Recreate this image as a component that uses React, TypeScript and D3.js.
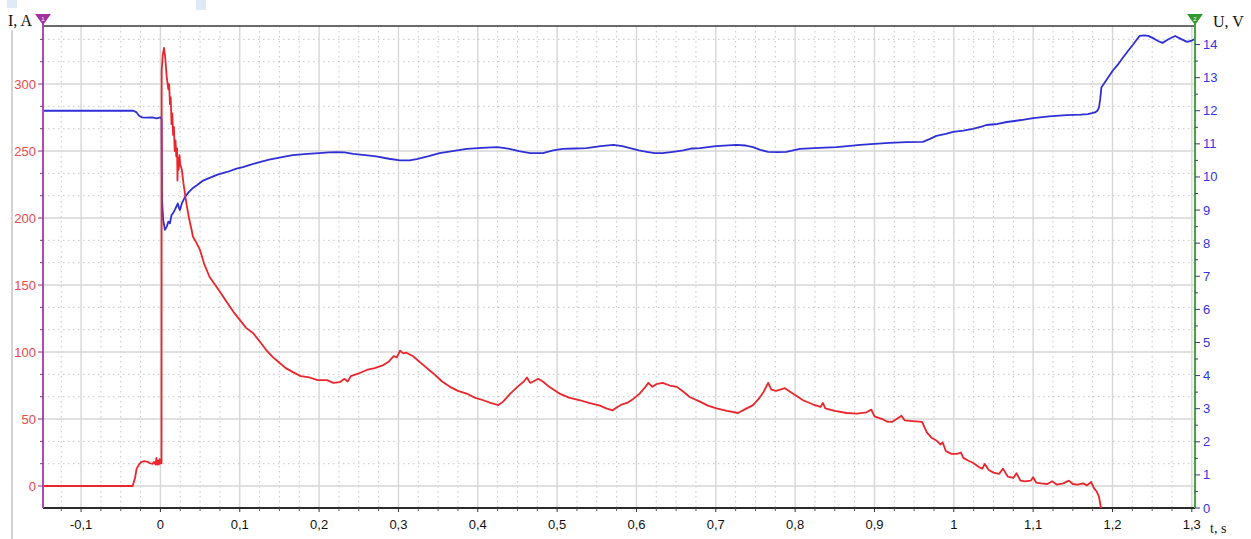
import * as d3 from "d3";

// time axis (s), current (A, left axis), voltage (V, right axis)
const timeTicks = [-0.1, 0, 0.1, 0.2, 0.3, 0.4, 0.5, 0.6, 0.7, 0.8, 0.9, 1, 1.1, 1.2, 1.3];
const currentTicks = [0, 50, 100, 150, 200, 250, 300];
const voltageTicks = [0, 1, 2, 3, 4, 5, 6, 7, 8, 9, 10, 11, 12, 13, 14];

const currentTime = [
  -0.148, -0.035, -0.032, -0.03, -0.027, -0.024, -0.02, -0.016, -0.013, -0.01, -0.008, -0.006, -0.005,
  -0.004, -0.003, -0.002, -0.001, 0, 0.0012, 0.0014, 0.0016, 0.003, 0.0045, 0.006, 0.008, 0.01, 0.011,
  0.012, 0.013, 0.014, 0.015, 0.016, 0.017, 0.018, 0.019, 0.02, 0.021, 0.0215, 0.022, 0.023, 0.024,
  0.025, 0.027, 0.029, 0.031, 0.033, 0.036, 0.039, 0.041, 0.045, 0.05, 0.055, 0.062, 0.068, 0.075,
  0.084, 0.092, 0.1, 0.108, 0.117, 0.125, 0.134, 0.142, 0.15, 0.158, 0.167, 0.177, 0.188, 0.198, 0.21,
  0.218, 0.226, 0.232, 0.236, 0.24, 0.25, 0.26, 0.27, 0.28, 0.288, 0.294, 0.298, 0.302, 0.306, 0.31,
  0.318, 0.33, 0.344, 0.355, 0.365, 0.375, 0.386, 0.396, 0.407, 0.416, 0.426, 0.432, 0.441, 0.45,
  0.458, 0.462, 0.466, 0.47, 0.476, 0.482, 0.49, 0.503, 0.515, 0.529, 0.54, 0.554, 0.562, 0.57, 0.576,
  0.582, 0.588, 0.596, 0.604, 0.61, 0.615, 0.62, 0.625, 0.633, 0.642, 0.651, 0.66, 0.667, 0.68, 0.69,
  0.701, 0.714, 0.728, 0.736, 0.747, 0.754, 0.76, 0.766, 0.77, 0.776, 0.787, 0.797, 0.81, 0.822, 0.832,
  0.835, 0.838, 0.85, 0.865, 0.878, 0.89, 0.896, 0.9, 0.91, 0.916, 0.922, 0.928, 0.934, 0.938, 0.948,
  0.96, 0.966, 0.972, 0.978, 0.983, 0.986, 0.99, 0.997, 1.004, 1.009, 1.012, 1.018, 1.025, 1.032,
  1.036, 1.039, 1.044, 1.05, 1.057, 1.062, 1.068, 1.075, 1.079, 1.084, 1.09, 1.097, 1.1, 1.104, 1.11,
  1.118, 1.124, 1.13, 1.138, 1.145, 1.15, 1.156, 1.163, 1.168, 1.173, 1.177, 1.18, 1.183, 1.1855,
];
const currentAmps = [
  0, 0, 6, 13, 16, 18, 18.5, 18, 17, 16.5, 18, 16, 21,
  16, 19, 16, 20, 17, 19, 17, 310, 322, 327, 320, 305, 296, 300,
  285, 290, 270, 278, 262, 268, 250, 258, 246, 252, 228, 245, 236, 247,
  240, 236, 226, 218, 210, 200, 192, 186, 182, 176, 166, 156, 151, 145,
  137, 130, 124, 118, 114, 108, 101, 96, 92, 88, 85, 82, 81, 79, 79,
  77, 77.5, 80, 78, 82, 84, 86.6, 88, 90, 93, 97, 96, 101, 99, 99.5,
  97, 91, 84, 78, 74, 71, 69, 66, 64, 62, 60.4, 63, 69, 74,
  78, 81, 77, 78, 80, 78, 74, 69, 66, 64, 62, 60, 58, 56.5, 59,
  61, 62, 65, 69, 73, 77, 74, 76, 77, 75, 74, 70, 66.4, 63, 60,
  58, 56, 54.5, 57, 60.4, 65, 70, 77, 72, 71, 73, 69, 64, 61, 59,
  62, 58, 56, 54.5, 54, 55, 57, 52, 50, 48, 47.8, 50, 52.5, 49, 48.5,
  47.8, 40, 36, 34, 31, 32.5, 26, 24, 24, 25, 21, 19, 17, 14,
  13, 16.5, 12, 10, 9, 13, 7, 6, 9.5, 4, 3.5, 4, 6.5, 2.5, 2,
  1.5, 3.5, 1, 2, 4, 1.5, 1, 2, 0.5, 3, -2, -4, -8, -16.4,
];

const voltageTime = [
  -0.148, -0.034, -0.03, -0.027, -0.023, -0.018, -0.01, -0.005, 0, 0.0015, 0.0017, 0.002, 0.0035,
  0.0057, 0.008, 0.01, 0.012, 0.014, 0.0158, 0.018, 0.02, 0.022, 0.0235, 0.0246, 0.027, 0.031, 0.036,
  0.041, 0.046, 0.053, 0.062, 0.072, 0.084, 0.096, 0.104, 0.115, 0.125, 0.137, 0.147, 0.158, 0.167,
  0.185, 0.2, 0.212, 0.222, 0.232, 0.243, 0.258, 0.272, 0.288, 0.302, 0.314, 0.323, 0.337, 0.352,
  0.37, 0.386, 0.405, 0.424, 0.432, 0.44, 0.452, 0.466, 0.482, 0.495, 0.507, 0.522, 0.537, 0.555,
  0.571, 0.582, 0.592, 0.603, 0.613, 0.623, 0.633, 0.646, 0.659, 0.67, 0.68, 0.7, 0.726, 0.738, 0.747,
  0.756, 0.766, 0.778, 0.789, 0.806, 0.83, 0.852, 0.866, 0.882, 0.9, 0.919, 0.94, 0.961, 0.97, 0.978,
  0.99, 0.999, 1.012, 1.024, 1.035, 1.041, 1.055, 1.067, 1.085, 1.1, 1.12, 1.142, 1.16, 1.169, 1.178,
  1.181, 1.183, 1.1845, 1.186, 1.193, 1.2, 1.207, 1.213, 1.22, 1.226, 1.234, 1.24, 1.245, 1.253, 1.258,
  1.263, 1.27, 1.279, 1.286, 1.294, 1.3, 1.304,
];
const voltageVolts = [
  12.0, 12.0, 11.95, 11.85, 11.8, 11.79, 11.8, 11.77, 11.8, 11.75, 10.6, 9.3, 8.7,
  8.4, 8.5, 8.65, 8.6, 8.85, 8.9, 9.0, 9.1, 9.2, 9.05, 9.0, 9.2, 9.4, 9.55,
  9.67, 9.75, 9.88, 9.97, 10.07, 10.15, 10.25, 10.3, 10.38, 10.45, 10.52, 10.57, 10.62, 10.66,
  10.7, 10.72, 10.74, 10.75, 10.74, 10.7, 10.66, 10.62, 10.55, 10.5, 10.5, 10.54, 10.62, 10.72,
  10.79, 10.85, 10.88, 10.9, 10.88, 10.85, 10.78, 10.72, 10.72, 10.8, 10.85, 10.86, 10.87, 10.93,
  10.97, 10.93, 10.87, 10.8, 10.76, 10.72, 10.72, 10.76, 10.8, 10.86, 10.87, 10.93, 10.97, 10.95, 10.9,
  10.82, 10.76, 10.75, 10.76, 10.85, 10.88, 10.9, 10.93, 10.97, 11.0, 11.03, 11.05, 11.06, 11.15, 11.24,
  11.3, 11.36, 11.4, 11.45, 11.52, 11.57, 11.6, 11.66, 11.72, 11.78, 11.83, 11.87, 11.88, 11.9, 11.95,
  12.0, 12.1, 12.35, 12.7, 12.95, 13.2, 13.4, 13.6, 13.82, 14.0, 14.26, 14.28, 14.26, 14.17, 14.1,
  14.05, 14.15, 14.26, 14.17, 14.08, 14.12, 14.17,
];

const W = 1251;
const H = 539;
const plot = { left: 43, right: 1195, top: 26, bottom: 508 };

const SANS = "Arial, 'Liberation Sans', sans-serif";
const SERIF = "'Times New Roman', 'Liberation Serif', serif";

const comma = (v: number) => String(+v.toFixed(3)).replace(".", ",");

export default function App() {
  const x = d3.scaleLinear().domain([-0.148, 1.304]).range([plot.left, plot.right]);
  const yI = d3.scaleLinear().domain([-16.4, 343.3]).range([plot.bottom, plot.top]);
  const yU = d3.scaleLinear().domain([0, 14.56]).range([plot.bottom, plot.top]);

  const currentPts = currentTime.map((t, i) => [t, currentAmps[i]] as [number, number]);
  const voltagePts = voltageTime.map((t, i) => [t, voltageVolts[i]] as [number, number]);

  const currentLine = d3
    .line<[number, number]>()
    .x((d) => x(d[0]))
    .y((d) => yI(d[1]));
  const voltageLine = d3
    .line<[number, number]>()
    .x((d) => x(d[0]))
    .y((d) => yU(d[1]));

  // minor grid: quarters of 0.1 s, thirds of 50 A
  const notMajor = (v: number, step: number) => Math.abs(v / step - Math.round(v / step)) > 1e-6;
  const minorT = d3
    .range(-5, 53)
    .map((k) => k * 0.025)
    .filter((t) => notMajor(t, 0.1) && x(t) > plot.left + 1 && x(t) < plot.right - 1);
  const minorI = d3
    .range(-1, 21)
    .map((k) => (k * 50) / 3)
    .filter((v) => notMajor(v, 50) && yI(v) > plot.top + 1 && yI(v) < plot.bottom - 1);
  const halfVolts = d3.range(0, 29).map((k) => k * 0.5).filter((v) => v % 1 !== 0);

  return (
    <svg width={W} height={H} style={{ position: "absolute", left: 0, top: 0, background: "#fff" }}>
      {/* faint screenshot artefacts */}
      <rect x={7} y={0} width={10} height={8} fill="#dfe9f8" />
      <rect x={196} y={0} width={10} height={10} fill="#dfe9f8" />
      <line x1={12} x2={12} y1={30} y2={H} stroke="#c4c4c4" strokeWidth={1.5} />

      {/* grid */}
      <g>
        {minorT.map((t) => (
          <line key={"mt" + t} x1={x(t)} x2={x(t)} y1={plot.top} y2={plot.bottom} stroke="#c4c4c4" strokeDasharray="1.5 3.5" />
        ))}
        {minorI.map((v) => (
          <line key={"mi" + v} x1={plot.left} x2={plot.right} y1={yI(v)} y2={yI(v)} stroke="#c4c4c4" strokeDasharray="1.5 3.5" />
        ))}
        {timeTicks.map((t) => (
          <line key={"gt" + t} x1={x(t)} x2={x(t)} y1={plot.top} y2={plot.bottom} stroke="#d6d6d6" strokeWidth={1.4} />
        ))}
        {currentTicks.map((v) => (
          <line key={"gi" + v} x1={plot.left} x2={plot.right} y1={yI(v)} y2={yI(v)} stroke="#d6d6d6" strokeWidth={1.4} />
        ))}
      </g>

      {/* frame */}
      <line x1={plot.left} x2={plot.right} y1={plot.top} y2={plot.top} stroke="#3a3a3a" strokeWidth={1.5} />
      <line x1={plot.left} x2={plot.right} y1={plot.bottom} y2={plot.bottom} stroke="#2a2a2a" strokeWidth={2} />

      {/* series */}
      <path d={voltageLine(voltagePts) ?? ""} fill="none" stroke="#2f2fd6" strokeWidth={1.8} strokeLinejoin="round" />
      <path d={currentLine(currentPts) ?? ""} fill="none" stroke="#e8262c" strokeWidth={1.8} strokeLinejoin="round" />

      {/* bottom axis */}
      <g>
        {minorT.map((t) => (
          <line key={"bt" + t} x1={x(t)} x2={x(t)} y1={plot.bottom} y2={plot.bottom + 3} stroke="#555" />
        ))}
        {timeTicks.map((t) => (
          <g key={"bx" + t}>
            <line x1={x(t)} x2={x(t)} y1={plot.bottom} y2={plot.bottom + 4} stroke="#333" />
            <text x={x(t)} y={529} textAnchor="middle" fontFamily={SANS} fontSize={13} fill="#111">
              {comma(t)}
            </text>
          </g>
        ))}
        <text x={1210} y={533} fontFamily={SERIF} fontSize={14} fill="#111">
          t, s
        </text>
      </g>

      {/* left axis */}
      <g>
        <line x1={plot.left} x2={plot.left} y1={plot.top - 2} y2={plot.bottom} stroke="#b24ab4" strokeWidth={2} />
        {minorI.map((v) => (
          <line key={"lt" + v} x1={plot.left - 3} x2={plot.left} y1={yI(v)} y2={yI(v)} stroke="#7a3a7c" />
        ))}
        {currentTicks.map((v) => (
          <g key={"ly" + v}>
            <line x1={plot.left - 5} x2={plot.left} y1={yI(v)} y2={yI(v)} stroke="#7a3a7c" />
            <text x={36} y={yI(v) + 4.5} textAnchor="end" fontFamily={SANS} fontSize={13} fill="#f04848">
              {v}
            </text>
          </g>
        ))}
        <path d={`M${plot.left - 8},14 L${plot.left + 8},14 L${plot.left},25 Z`} fill="#a2309f" />
        <text x={plot.left} y={20.5} textAnchor="middle" fontFamily={SANS} fontSize={6} fill="#fff">
          1
        </text>
        <text x={8} y={26} fontFamily={SERIF} fontSize={16} fill="#111">
          I, A
        </text>
      </g>

      {/* right axis */}
      <g>
        <line x1={plot.right} x2={plot.right} y1={plot.top - 2} y2={plot.bottom} stroke="#45a845" strokeWidth={2} />
        {halfVolts.map((v) => (
          <line key={"rt" + v} x1={plot.right} x2={plot.right + 3} y1={yU(v)} y2={yU(v)} stroke="#333a80" />
        ))}
        {voltageTicks.map((v) => (
          <g key={"ry" + v}>
            <line x1={plot.right} x2={plot.right + 5} y1={yU(v)} y2={yU(v)} stroke="#333a80" />
            <text x={1203} y={yU(v) + 4.5} fontFamily={SANS} fontSize={13} fill="#3434e0">
              {v}
            </text>
          </g>
        ))}
        <path d={`M${plot.right - 8},14 L${plot.right + 8},14 L${plot.right},25 Z`} fill="#2f9a2f" />
        <text x={plot.right} y={20.5} textAnchor="middle" fontFamily={SANS} fontSize={6} fill="#fff">
          2
        </text>
        <text x={1213} y={27} fontFamily={SERIF} fontSize={16} fill="#111">
          U, V
        </text>
      </g>
    </svg>
  );
}
